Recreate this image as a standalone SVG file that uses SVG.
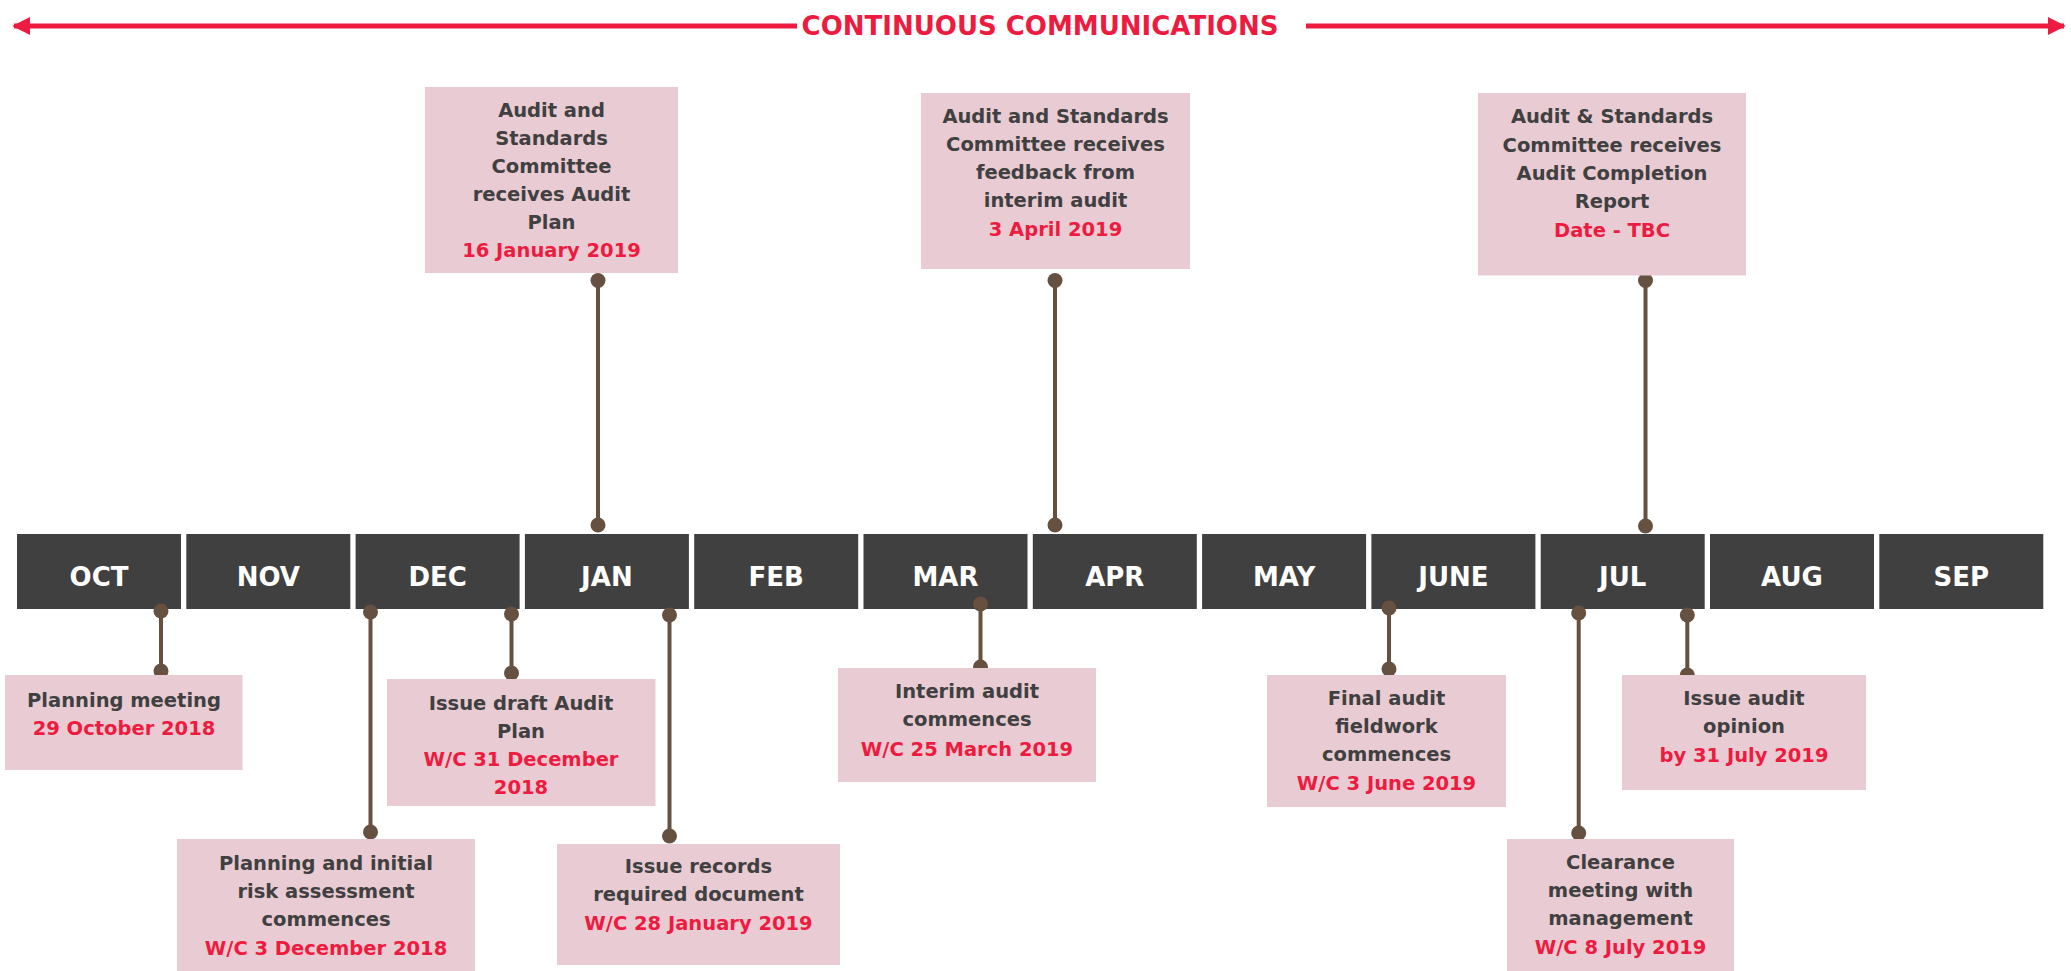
<svg xmlns="http://www.w3.org/2000/svg" width="2071" height="971" viewBox="0 0 2071 971">
<style>
.bg{fill:#ffffff}
.month rect{fill:#404040}
.month text{fill:#ffffff;font-family:"DejaVu Sans",sans-serif;font-weight:bold;font-size:26px;text-anchor:middle}
.box rect{fill:#e9cbd3}
.box text{font-family:"DejaVu Sans",sans-serif;font-weight:bold;font-size:19.5px;text-anchor:middle;fill:#404040}
.box text .d{fill:#ee1b40}
.conn line{stroke:#665040;stroke-width:4}
.conn circle{fill:#665040}
.title{fill:#ee1b40;font-family:"DejaVu Sans",sans-serif;font-weight:bold;font-size:26px;text-anchor:middle}
.arrow{stroke:#ee1b40;stroke-width:5;fill:none}
</style>
<defs>
<marker id="ah" viewBox="0 0 10 10" refX="9" refY="5" markerWidth="18" markerHeight="18" markerUnits="userSpaceOnUse" orient="auto-start-reverse">
<path d="M0,0 L10,5 L0,10 z" fill="#ee1b40"/>
</marker>
</defs>
<rect class="bg" x="0" y="0" width="2071" height="971"/>

<g id="continuous-communications">
<line class="arrow" x1="14" y1="26" x2="797" y2="26" marker-start="url(#ah)"/>
<line class="arrow" x1="1306" y1="26" x2="2064" y2="26" marker-end="url(#ah)"/>
<text class="title" x="1040" y="35">CONTINUOUS COMMUNICATIONS</text>
</g>

<g id="months" class="month">
<g id="m-oct"><rect x="17" y="534" width="164" height="75"/><text x="99" y="586">OCT</text></g>
<g id="m-nov"><rect x="186.3" y="534" width="164" height="75"/><text x="268.3" y="586">NOV</text></g>
<g id="m-dec"><rect x="355.6" y="534" width="164" height="75"/><text x="437.6" y="586">DEC</text></g>
<g id="m-jan"><rect x="524.9" y="534" width="164" height="75"/><text x="606.9" y="586">JAN</text></g>
<g id="m-feb"><rect x="694.2" y="534" width="164" height="75"/><text x="776.2" y="586">FEB</text></g>
<g id="m-mar"><rect x="863.5" y="534" width="164" height="75"/><text x="945.5" y="586">MAR</text></g>
<g id="m-apr"><rect x="1032.8" y="534" width="164" height="75"/><text x="1114.8" y="586">APR</text></g>
<g id="m-may"><rect x="1202.1" y="534" width="164" height="75"/><text x="1284.1" y="586">MAY</text></g>
<g id="m-jun"><rect x="1371.4" y="534" width="164" height="75"/><text x="1453.4" y="586">JUNE</text></g>
<g id="m-jul"><rect x="1540.7" y="534" width="164" height="75"/><text x="1622.7" y="586">JUL</text></g>
<g id="m-aug"><rect x="1710" y="534" width="164" height="75"/><text x="1792" y="586">AUG</text></g>
<g id="m-sep"><rect x="1879.3" y="534" width="164" height="75"/><text x="1961.3" y="586">SEP</text></g>
</g>

<g id="connectors" class="conn">
<line x1="598" y1="280.5" x2="598" y2="525"/><circle cx="598" cy="280.5" r="7.5"/><circle cx="598" cy="525" r="7.5"/>
<line x1="1055" y1="280.5" x2="1055" y2="525"/><circle cx="1055" cy="280.5" r="7.5"/><circle cx="1055" cy="525" r="7.5"/>
<line x1="1645.5" y1="280.5" x2="1645.5" y2="526"/><circle cx="1645.5" cy="280.5" r="7.5"/><circle cx="1645.5" cy="526" r="7.5"/>
<line x1="161" y1="611" x2="161" y2="671"/><circle cx="161" cy="611" r="7.5"/><circle cx="161" cy="671" r="7.5"/>
<line x1="370.5" y1="612" x2="370.5" y2="832"/><circle cx="370.5" cy="612" r="7.5"/><circle cx="370.5" cy="832" r="7.5"/>
<line x1="511.5" y1="614" x2="511.5" y2="673"/><circle cx="511.5" cy="614" r="7.5"/><circle cx="511.5" cy="673" r="7.5"/>
<line x1="669.5" y1="615" x2="669.5" y2="836"/><circle cx="669.5" cy="615" r="7.5"/><circle cx="669.5" cy="836" r="7.5"/>
<line x1="980.5" y1="604" x2="980.5" y2="667"/><circle cx="980.5" cy="604" r="7.5"/><circle cx="980.5" cy="667" r="7.5"/>
<line x1="1389" y1="608" x2="1389" y2="669"/><circle cx="1389" cy="608" r="7.5"/><circle cx="1389" cy="669" r="7.5"/>
<line x1="1578.7" y1="613" x2="1578.7" y2="833"/><circle cx="1578.7" cy="613" r="7.5"/><circle cx="1578.7" cy="833" r="7.5"/>
<line x1="1687.3" y1="615" x2="1687.3" y2="675"/><circle cx="1687.3" cy="615" r="7.5"/><circle cx="1687.3" cy="675" r="7.5"/>
</g>

<g id="n-audit-plan" class="box">
<rect x="425" y="87" width="253" height="186"/>
<text x="551.5" y="117">Audit and</text>
<text x="551.5" y="145">Standards</text>
<text x="551.5" y="173">Committee</text>
<text x="551.5" y="201">receives Audit</text>
<text x="551.5" y="228.5">Plan</text>
<text x="551.5" y="256.5"><tspan class="d">16 January 2019</tspan></text>
</g>

<g id="n-interim-feedback" class="box">
<rect x="921" y="93" width="269" height="176"/>
<text x="1055.5" y="123">Audit and Standards</text>
<text x="1055.5" y="151">Committee receives</text>
<text x="1055.5" y="179">feedback from</text>
<text x="1055.5" y="207">interim audit</text>
<text x="1055.5" y="236"><tspan class="d">3 April 2019</tspan></text>
</g>

<g id="n-completion-report" class="box">
<rect x="1478" y="93" width="268" height="182.5"/>
<text x="1612" y="123">Audit &amp; Standards</text>
<text x="1612" y="151.5">Committee receives</text>
<text x="1612" y="179.5">Audit Completion</text>
<text x="1612" y="208">Report</text>
<text x="1612" y="236.5"><tspan class="d">Date - TBC</tspan></text>
</g>

<g id="n-planning-meeting" class="box">
<rect x="5" y="675" width="237.5" height="95"/>
<text x="124" y="707">Planning meeting</text>
<text x="124" y="734.5"><tspan class="d">29 October 2018</tspan></text>
</g>

<g id="n-risk-assessment" class="box">
<rect x="177" y="839" width="298" height="132"/>
<text x="326" y="870">Planning and initial</text>
<text x="326" y="898">risk assessment</text>
<text x="326" y="926">commences</text>
<text x="326" y="955"><tspan class="d">W/C 3 December 2018</tspan></text>
</g>

<g id="n-draft-plan" class="box">
<rect x="387" y="679" width="268.5" height="127"/>
<text x="521" y="710">Issue draft Audit</text>
<text x="521" y="738">Plan</text>
<text x="521" y="766"><tspan class="d">W/C 31 December</tspan></text>
<text x="521" y="793.5"><tspan class="d">2018</tspan></text>
</g>

<g id="n-records" class="box">
<rect x="557" y="844" width="283" height="121"/>
<text x="698.5" y="873">Issue records</text>
<text x="698.5" y="901">required document</text>
<text x="698.5" y="930"><tspan class="d">W/C 28 January 2019</tspan></text>
</g>

<g id="n-interim" class="box">
<rect x="838" y="668" width="258" height="114"/>
<text x="967" y="698">Interim audit</text>
<text x="967" y="726">commences</text>
<text x="967" y="755.5"><tspan class="d">W/C 25 March 2019</tspan></text>
</g>

<g id="n-final-audit" class="box">
<rect x="1267" y="675" width="239" height="132"/>
<text x="1386.5" y="705">Final audit</text>
<text x="1386.5" y="733">fieldwork</text>
<text x="1386.5" y="761">commences</text>
<text x="1386.5" y="790"><tspan class="d">W/C 3 June 2019</tspan></text>
</g>

<g id="n-clearance" class="box">
<rect x="1507" y="839" width="227" height="132"/>
<text x="1620.5" y="869">Clearance</text>
<text x="1620.5" y="897">meeting with</text>
<text x="1620.5" y="925">management</text>
<text x="1620.5" y="954"><tspan class="d">W/C 8 July 2019</tspan></text>
</g>

<g id="n-opinion" class="box">
<rect x="1622" y="675" width="244" height="115"/>
<text x="1744" y="705">Issue audit</text>
<text x="1744" y="733">opinion</text>
<text x="1744" y="762"><tspan class="d">by 31 July 2019</tspan></text>
</g>
</svg>
